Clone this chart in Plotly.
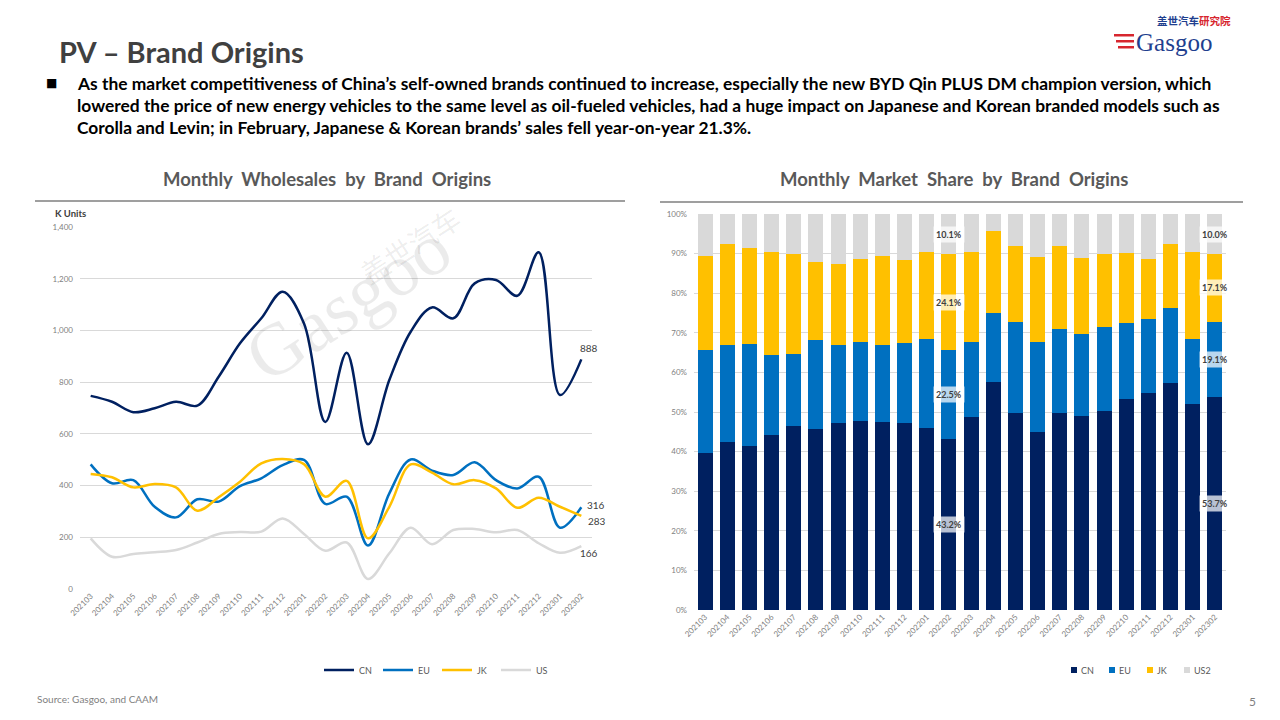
import plotly.graph_objects as go

months = ["202103", "202104", "202105", "202106", "202107", "202108", "202109", "202110",
          "202111", "202112", "202201", "202202", "202203", "202204", "202205", "202206",
          "202207", "202208", "202209", "202210", "202211", "202212", "202301", "202302"]

# Monthly wholesales (K units)
cn_units = [747, 724, 684, 699, 724, 709, 821, 950, 1047, 1150, 1027, 646,
            914, 560, 808, 995, 1089, 1047, 1182, 1195, 1134, 1302, 750, 888]
eu_units = [482, 409, 421, 318, 277, 347, 338, 398, 428, 479, 499, 329,
            357, 168, 370, 501, 458, 441, 490, 421, 389, 434, 237, 316]
jk_units = [445, 432, 393, 406, 393, 303, 355, 415, 486, 503, 483, 357,
            418, 196, 318, 482, 450, 405, 421, 389, 314, 353, 318, 283]
us_units = [196, 125, 135, 142, 151, 180, 213, 220, 222, 273, 213, 148,
            180, 39, 138, 237, 173, 228, 232, 219, 228, 177, 140, 166]

# Monthly market share (%)
cn_share = [39.7, 42.5, 41.5, 44.3, 46.5, 45.8, 47.3, 47.8, 47.5, 47.3, 46.0, 43.2,
            48.8, 57.7, 49.7, 45.0, 49.8, 49.1, 50.3, 53.3, 54.7, 57.2, 52.1, 53.7]
eu_share = [26.0, 24.3, 25.7, 20.2, 18.2, 22.4, 19.5, 20.0, 19.5, 20.2, 22.5, 22.5,
            19.0, 17.4, 23.1, 22.8, 21.2, 20.6, 21.2, 19.3, 18.9, 19.1, 16.4, 19.1]
jk_share = [23.8, 25.5, 24.3, 26.0, 25.2, 19.8, 20.7, 20.9, 22.5, 21.0, 22.0, 24.1,
            22.5, 20.7, 19.0, 21.4, 21.0, 19.3, 18.3, 17.5, 15.0, 16.0, 21.8, 17.1]
us_share = [10.5, 7.7, 8.5, 9.5, 10.1, 12.0, 12.5, 11.3, 10.5, 11.5, 9.5, 10.1,
            9.7, 4.2, 8.2, 10.8, 8.0, 11.0, 10.2, 9.9, 11.4, 7.7, 9.7, 10.0]
labeled_months = ["202202", "202302"]

series_names = ["CN", "EU", "JK", "US"]
share_names = ["CN", "EU", "JK", "US2"]
colors = ["#002060", "#0070C0", "#FFC000", "#D9D9D9"]

FONT = "Lato, 'Open Sans', sans-serif"
W, H = 1280, 720

fig = go.Figure()

# ---- Left: line chart ----
for name, vals, col in zip(series_names, [cn_units, eu_units, jk_units, us_units], colors):
    fig.add_trace(go.Scatter(
        x=months, y=vals, name=name, mode="lines",
        line=dict(color=col, width=2.5, shape="spline", smoothing=1.0),
        xaxis="x", yaxis="y", legend="legend", hoverinfo="skip"))

# ---- Right: stacked bars ----
for name, vals, col in zip(share_names, [cn_share, eu_share, jk_share, us_share], colors):
    fig.add_trace(go.Bar(
        x=months, y=vals, name=name, marker=dict(color=col, line=dict(width=0)),
        xaxis="x2", yaxis="y2", showlegend=False, hoverinfo="skip"))

annotations = []
shapes = []

# End labels on the line chart (category index used as x position)
last_idx = len(months) - 1
end_labels = [(cn_units[-1], -3, 11), (eu_units[-1], 4, 2), (jk_units[-1], 5, -5), (us_units[-1], -3, -7)]
for v, xs, ys in end_labels:
    annotations.append(dict(x=last_idx, y=v, xref="x", yref="y", text=f"{v:,}", showarrow=False,
                            xanchor="left", yanchor="middle", xshift=xs, yshift=ys,
                            font=dict(family=FONT, size=10, color="#404040")))

# Data labels on the stacked bars
share_series = [cn_share, eu_share, jk_share, us_share]
for m in labeled_months:
    i = months.index(m)
    base = 0.0
    for s in share_series:
        v = s[i]
        annotations.append(dict(x=i, y=base + v / 2, xref="x2", yref="y2", text=f"<b>{v:.1f}%</b>",
                                showarrow=False, bgcolor="rgba(255,255,255,0.72)", borderpad=2,
                                font=dict(family=FONT, size=9, color="#404040")))
        base += v

# Legend for the bar chart (small squares, as in the source)
legend_x = [1071, 1109, 1147, 1184]
for name, col, lx in zip(share_names, colors, legend_x):
    shapes.append(dict(type="rect", xref="paper", yref="paper",
                       x0=lx / W, x1=(lx + 6) / W, y0=1 - 673 / H, y1=1 - 667 / H,
                       fillcolor=col, line=dict(width=0)))
    annotations.append(dict(x=(lx + 8) / W, y=1 - 670 / H, xref="paper", yref="paper", text=name,
                            showarrow=False, xanchor="left", yanchor="middle",
                            font=dict(family=FONT, size=9, color="#595959")))

# Page texts
annotations += [
    dict(x=57 / W, y=1 - 52 / H, xref="paper", yref="paper", text="<b>PV – Brand Origins</b>",
         showarrow=False, xanchor="left", yanchor="middle",
         font=dict(family=FONT, size=29, color="#404040")),
    dict(x=44 / W, y=1 - 83 / H, xref="paper", yref="paper", text="■",
         showarrow=False, xanchor="left", yanchor="middle",
         font=dict(family="DejaVu Sans", size=12, color="#000000")),
]
body_lines = [
    "As the market competitiveness of China’s self-owned brands continued to increase, especially the new BYD Qin PLUS DM champion version, which",
    "lowered the price of new energy vehicles to the same level as oil-fueled vehicles, had a huge impact on Japanese and Korean branded models such as",
    "Corolla and Levin; in February, Japanese & Korean brands’ sales fell year-on-year 21.3%.",
]
for k, line in enumerate(body_lines):
    annotations.append(dict(x=75 / W, y=1 - (83 + 22 * k) / H, xref="paper", yref="paper",
                            text=f"<b>{line}</b>", showarrow=False, xanchor="left", yanchor="middle",
                            font=dict(family=FONT, size=17.4, color="#000000")))

annotations += [
    dict(x=327 / W, y=1 - 179 / H, xref="paper", yref="paper",
         text="<b>Monthly  Wholesales  by  Brand  Origins</b>", showarrow=False,
         xanchor="center", yanchor="middle", font=dict(family=FONT, size=18.5, color="#595959")),
    dict(x=954 / W, y=1 - 179 / H, xref="paper", yref="paper",
         text="<b>Monthly  Market  Share  by  Brand  Origins</b>", showarrow=False,
         xanchor="center", yanchor="middle", font=dict(family=FONT, size=18.5, color="#595959")),
    dict(x=53 / W, y=1 - 213 / H, xref="paper", yref="paper", text="<b>K Units</b>", showarrow=False,
         xanchor="left", yanchor="middle", font=dict(family=FONT, size=9.5, color="#404040")),
    dict(x=35 / W, y=1 - 699 / H, xref="paper", yref="paper", text="Source: Gasgoo, and CAAM",
         showarrow=False, xanchor="left", yanchor="middle",
         font=dict(family=FONT, size=10, color="#7F7F7F")),
    dict(x=1258 / W, y=1 - 701 / H, xref="paper", yref="paper", text="5", showarrow=False,
         xanchor="right", yanchor="middle", font=dict(family=FONT, size=12, color="#7F7F7F")),
    # logo
    dict(x=1155 / W, y=1 - 20 / H, xref="paper", yref="paper",
         text="<b><span style='color:#1F3F8F'>盖世汽车</span><span style='color:#D7262E'>研究院</span></b>",
         showarrow=False, xanchor="left", yanchor="middle",
         font=dict(family="Noto Sans CJK SC", size=10.5)),
    dict(x=1134 / W, y=1 - 42 / H, xref="paper", yref="paper", text="Gasgoo", showarrow=False,
         xanchor="left", yanchor="middle",
         font=dict(family="Liberation Serif, DejaVu Serif, serif", size=25, color="#1F3F8F")),
    # watermark
    dict(x=410 / W, y=1 - 245 / H, xref="paper", yref="paper", text="盖世汽车",
         showarrow=False, textangle=-33, xanchor="center", yanchor="middle",
         font=dict(family="Noto Sans CJK SC", size=28, color="rgba(0,0,0,0.08)")),
    dict(x=348 / W, y=1 - 302 / H, xref="paper", yref="paper", text="Gasgoo",
         showarrow=False, textangle=-33, xanchor="center", yanchor="middle",
         font=dict(family="Liberation Serif, serif", size=74, color="rgba(0,0,0,0.08)")),
]

shapes += [
    dict(type="line", xref="paper", yref="paper", x0=35 / W, x1=625 / W, y0=1 - 201 / H, y1=1 - 201 / H,
         line=dict(color="#7F7F7F", width=1.5)),
    dict(type="line", xref="paper", yref="paper", x0=660 / W, x1=1243 / W, y0=1 - 202 / H, y1=1 - 202 / H,
         line=dict(color="#7F7F7F", width=1.5)),
]
# red stripes of logo
for k, yy in enumerate([34, 40, 46]):
    shapes.append(dict(type="rect", xref="paper", yref="paper",
                       x0=(1114 + 2 * k) / W, x1=1134 / W, y0=1 - (yy + 2.5) / H, y1=1 - yy / H,
                       fillcolor="#D7262E", line=dict(width=0)))

tickfont = dict(family=FONT, size=8, color="#7F7F7F")

fig.update_layout(
    width=W, height=H, margin=dict(l=0, r=0, t=0, b=0, autoexpand=False),
    paper_bgcolor="white", plot_bgcolor="white",
    font=dict(family=FONT),
    barmode="stack", bargap=0.33,
    xaxis=dict(domain=[80 / W, 592 / W], anchor="y", type="category", range=[-0.5, 23.5],
               tickangle=-45, tickfont=tickfont, showgrid=False, zeroline=False, showline=False,
               ticks="", automargin=False),
    yaxis=dict(domain=[1 - 589 / H, 1 - 227 / H], anchor="x", range=[0, 1400], dtick=200,
               tickformat=",", tickfont=tickfont, gridcolor="#D9D9D9", gridwidth=1,
               zeroline=False, showline=False, ticks="", ticklabelstandoff=6, automargin=False),
    xaxis2=dict(domain=[694 / W, 1226 / W], anchor="y2", type="category", range=[-0.5, 23.5],
                tickangle=-45, tickfont=tickfont, showgrid=False, zeroline=False, showline=False,
                ticks="", automargin=False),
    yaxis2=dict(domain=[1 - 610 / H, 1 - 214 / H], anchor="x2", range=[0, 100], dtick=10,
                ticksuffix="%", tickfont=tickfont, gridcolor="#D9D9D9", gridwidth=1,
                zeroline=False, showline=False, ticks="", ticklabelstandoff=6, automargin=False),
    legend=dict(orientation="h", x=437 / W, xanchor="center", y=1 - 670 / H, yanchor="middle",
                font=dict(family=FONT, size=9, color="#595959"), itemwidth=30,
                entrywidth=14, traceorder="normal", bgcolor="rgba(0,0,0,0)"),
    annotations=annotations,
    shapes=shapes,
    showlegend=True,
)

fig.write_html("out.html", config={"displayModeBar": False},
               post_script="document.body.style.margin='0';")
